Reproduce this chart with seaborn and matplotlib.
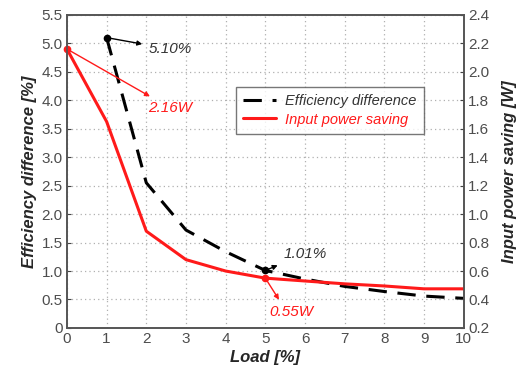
import matplotlib
matplotlib.use("Agg")
import matplotlib.pyplot as plt
import seaborn as sns
import pandas as pd
import numpy as np
from matplotlib.lines import Line2D

load = [0, 1, 2, 3, 4, 5, 6, 7, 8, 9, 10]
eff_load = [1, 2, 3, 4, 5, 6, 7, 8, 9, 10]
eff_diff = [5.10, 2.55, 1.72, 1.34, 1.01, 0.86, 0.73, 0.64, 0.56, 0.52]
power_saving = [2.16, 1.65, 0.88, 0.68, 0.60, 0.55, 0.53, 0.51, 0.495, 0.475, 0.475]

sns.set_style("white")
plt.rcParams['font.family'] = ['Liberation Sans', 'DejaVu Sans']

fig = plt.figure(figsize=(5.27, 3.71), dpi=100)
ax = fig.add_axes([0.127, 0.116, 0.753, 0.844])
ax2 = ax.twinx()

df1 = pd.DataFrame({"load": eff_load, "val": eff_diff})
df2 = pd.DataFrame({"load": load, "val": power_saving})

sns.lineplot(data=df1, x="load", y="val", ax=ax, color="black", lw=2.2, legend=False)
ax.lines[-1].set_dashes([6, 3.5])
sns.lineplot(data=df2, x="load", y="val", ax=ax2, color="#ff1a1a", lw=2.2, legend=False)

ax.set_xlim(0, 10)
ax.set_ylim(0, 5.5)
ax2.set_ylim(0.2, 2.4)
ax.set_xticks(range(0, 11))
yt = np.arange(0, 5.51, 0.5)
ax.set_yticks(yt)
ax.set_yticklabels(["0"] + [f"{v:.1f}" for v in yt[1:]])
rt = np.arange(0.2, 2.41, 0.2)
ax2.set_yticks(rt)
ax2.set_yticklabels([f"{v:.1f}" for v in rt])

ax.grid(True, linestyle=(0, (1, 2.5)), color="#b0b0b0", lw=0.9)
for a in (ax, ax2):
    a.tick_params(direction="in", length=3, labelsize=11, colors="#444444",
                  labelcolor="#4d4d4d", pad=3)
    for s in a.spines.values():
        s.set_color("#555555")
        s.set_linewidth(1.2)

ax.set_xlabel("Load [%]", fontsize=12, fontweight="bold", fontstyle="italic", labelpad=3)
ax.set_ylabel("Efficiency difference [%]", fontsize=12, fontweight="bold", fontstyle="italic", labelpad=3)
ax2.set_ylabel("Input power saving [W]", fontsize=12, fontweight="bold", fontstyle="italic", labelpad=9)

# markers and annotations
ax.plot([eff_load[0]], [eff_diff[0]], "o", color="black", ms=4.5)
ax.plot([eff_load[4]], [eff_diff[4]], "o", color="black", ms=4.5)
ax2.plot([load[0]], [power_saving[0]], "o", color="#ff1a1a", ms=4.5, clip_on=False)
ax2.plot([load[5]], [power_saving[5]], "o", color="#ff1a1a", ms=4.5)

ak = dict(lw=1, mutation_scale=7)
ax.annotate(f"{eff_diff[0]:.2f}%", xy=(eff_load[0], eff_diff[0]), xytext=(2.05, 4.9),
            textcoords="data", color="#333333", fontsize=11, fontstyle="italic", va="center",
            arrowprops=dict(arrowstyle="<|-", color="black", **ak))
ax2.annotate(f"{power_saving[0]:.2f}W", xy=(load[0], power_saving[0]), xytext=(2.05, 1.745),
             textcoords="data", color="#ff1a1a", fontsize=11, fontstyle="italic", va="center",
             arrowprops=dict(arrowstyle="<|-", color="#ff1a1a", **ak))
ax.annotate(f"{eff_diff[4]:.2f}%", xy=(eff_load[4], eff_diff[4]), xytext=(5.45, 1.3),
            textcoords="data", color="#333333", fontsize=11, fontstyle="italic", va="center",
            arrowprops=dict(arrowstyle="<|-", color="black", **ak))
ax2.annotate(f"{power_saving[5]:.2f}W", xy=(load[5], power_saving[5]), xytext=(5.1, 0.31),
             textcoords="data", color="#ff1a1a", fontsize=11, fontstyle="italic", va="center",
             arrowprops=dict(arrowstyle="<|-", color="#ff1a1a", relpos=(0.3, 1.0), **ak))

handles = [Line2D([], [], color="black", lw=2.2, dashes=[6, 3.5]),
           Line2D([], [], color="#ff1a1a", lw=2.2)]
leg = ax2.legend(handles, ["Efficiency difference", "Input power saving"],
                 loc="upper left", bbox_to_anchor=(0.425, 0.77), borderaxespad=0,
                 frameon=True, fancybox=False, edgecolor="#555555", handlelength=2.3,
                 handletextpad=0.6, borderpad=0.5, labelspacing=0.3,
                 prop=dict(style="italic", size=10.5))
leg.get_frame().set_linewidth(1.0)
leg.texts[0].set_color("#333333")
leg.texts[1].set_color("#ff1a1a")

fig.savefig("out.png", dpi=100)
